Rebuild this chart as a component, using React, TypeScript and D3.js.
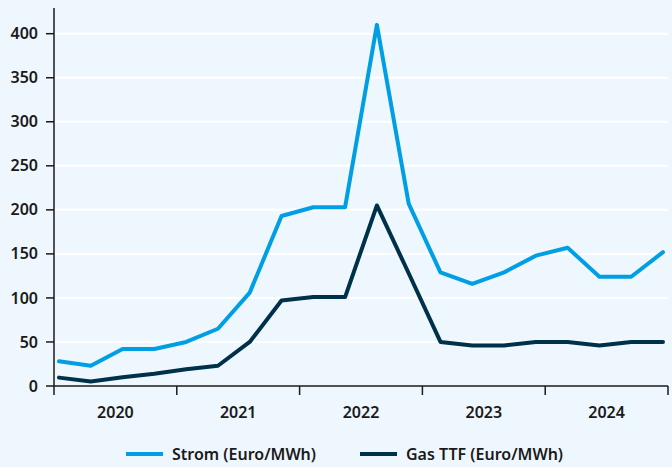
import React from "react";
import * as d3 from "d3";

const quarters = [
  "2020Q1","2020Q2","2020Q3","2020Q4",
  "2021Q1","2021Q2","2021Q3","2021Q4",
  "2022Q1","2022Q2","2022Q3","2022Q4",
  "2023Q1","2023Q2","2023Q3","2023Q4",
  "2024Q1","2024Q2","2024Q3","2024Q4",
];
const strom = [28, 23, 42, 42, 50, 65, 106, 193, 203, 203, 410, 207, 129, 116, 129, 148, 157, 124, 124, 152];
const gas = [9.5, 5, 10, 14, 19, 23, 50, 97, 101, 101, 205, 128, 50, 46, 46, 50, 50, 46, 50, 50];
const years = [2020, 2021, 2022, 2023, 2024];
const yTicks = [0, 50, 100, 150, 200, 250, 300, 350, 400];
const seriesNames = ["Strom (Euro/MWh)", "Gas TTF (Euro/MWh)"];
const seriesColors = ["#009fe3", "#00314a"];

const W = 672;
const H = 467;
const FONT = "'Noto Sans', sans-serif";
const TEXT = "#1a1a1a";

export default function App() {
  const x0 = 54;
  const x1 = 668;
  const yBase = 386;
  const y = d3.scaleLinear().domain([0, 400]).range([yBase, 33.7]);
  const xp = d3.scalePoint<string>().domain(quarters).range([59, 663]);
  const xy = d3.scaleLinear().domain([2020, 2025]).range([x0, x1]);

  const line = d3
    .line<number>()
    .x((_, i) => xp(quarters[i]) as number)
    .y((d) => y(d))
    .curve(d3.curveLinear);

  const series = [strom, gas];

  return (
    <div style={{ position: "absolute", left: 0, top: 0, width: W, height: H, overflow: "hidden" }}>
      <svg width={W} height={H} style={{ display: "block" }}>
        <rect x={0} y={0} width={W} height={H} fill="#eff7fe" />
        {yTicks.filter((t) => t > 0).map((t) => (
          <line key={t} x1={x0} x2={x1} y1={y(t)} y2={y(t)} stroke="#ffffff" strokeWidth={2} />
        ))}
        <line x1={x0} x2={x0} y1={8} y2={yBase} stroke={TEXT} strokeWidth={1.5} />
        {yTicks.map((t) => (
          <g key={t}>
            <line x1={x0 - 8} x2={x0} y1={y(t)} y2={y(t)} stroke={TEXT} strokeWidth={1.5} />
            <text
              x={38}
              y={y(t) + 5.6}
              textAnchor="end"
              fontFamily={FONT}
              fontWeight={600}
              fontSize={16}
              fill={TEXT}
            >
              {t}
            </text>
          </g>
        ))}
        <line x1={x0} x2={x1} y1={yBase} y2={yBase} stroke={TEXT} strokeWidth={1.5} />
        {[...years, 2025].map((yr) => (
          <line key={yr} x1={xy(yr)} x2={xy(yr)} y1={yBase} y2={yBase + 9} stroke={TEXT} strokeWidth={1.5} />
        ))}
        {years.map((yr) => (
          <text
            key={yr}
            x={xy(yr + 0.5)}
            y={418}
            textAnchor="middle"
            fontFamily={FONT}
            fontWeight={600}
            fontSize={16}
            fill={TEXT}
          >
            {yr}
          </text>
        ))}
        {series.map((s, i) => (
          <path
            key={i}
            d={line(s) as string}
            fill="none"
            stroke={seriesColors[i]}
            strokeWidth={4}
            strokeLinejoin="round"
            strokeLinecap="round"
          />
        ))}
        {seriesNames.map((n, i) => {
          const lx = i === 0 ? 126 : 360;
          return (
            <g key={n}>
              <line x1={lx} x2={lx + 37} y1={454} y2={454} stroke={seriesColors[i]} strokeWidth={4} />
              <text
                x={lx + 46}
                y={459.6}
                fontFamily={FONT}
                fontWeight={600}
                fontSize={16}
                fill={TEXT}
              >
                {n}
              </text>
            </g>
          );
        })}
      </svg>
    </div>
  );
}
